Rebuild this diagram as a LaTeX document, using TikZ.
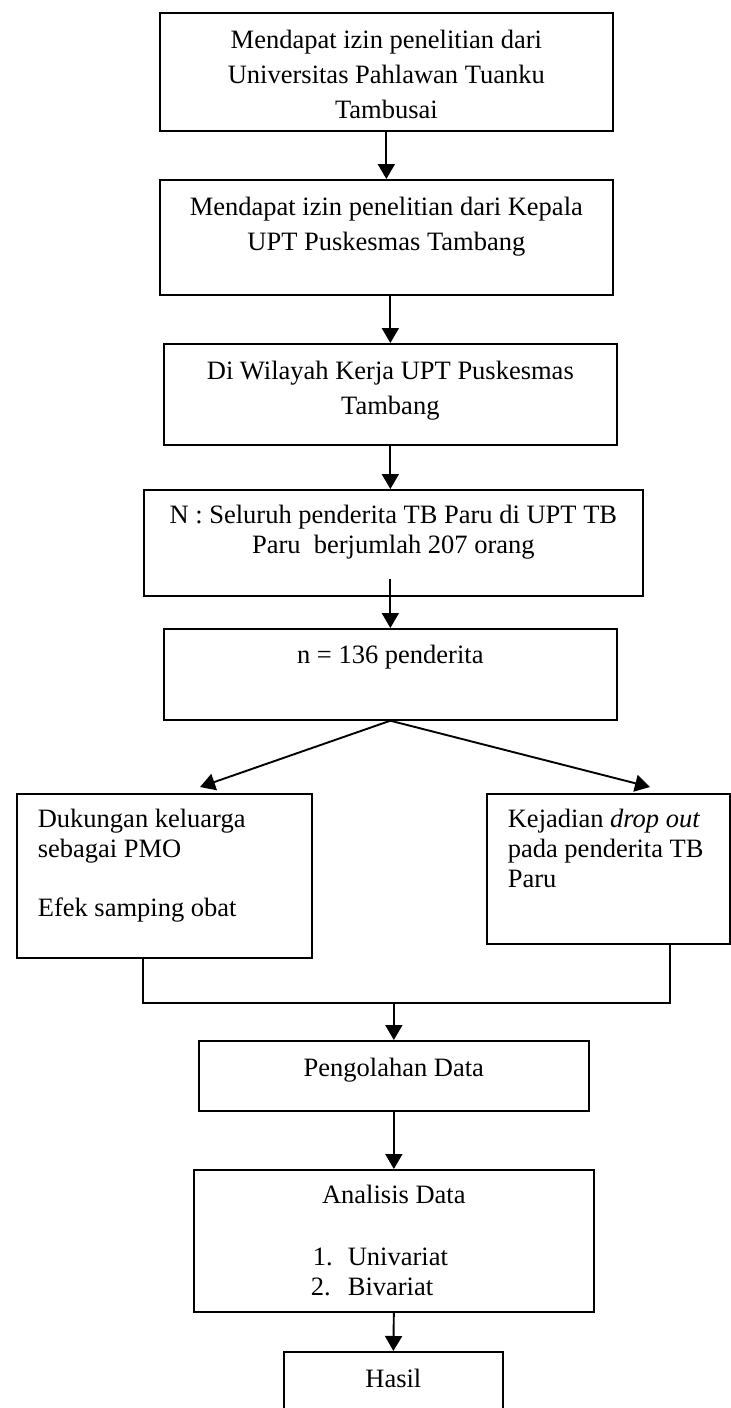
\documentclass[tikz,border=0pt]{standalone}
\usepackage{fontspec}
\setmainfont{Liberation Serif}
\usetikzlibrary{arrows.meta,calc}
\begin{document}
\begin{tikzpicture}[x=0.5pt,y=-0.5pt,
  box/.style={draw, line width=0.85pt, inner sep=0pt, anchor=north west, font=\fontsize{13.25pt}{17.5pt}\selectfont},
  arr/.style={line width=0.95pt, -{Triangle[length=7.5pt,width=8.5pt]}},
  ln/.style={line width=0.85pt}]
\useasboundingbox (0,0) rectangle (731,1408);
\clip (0,0) rectangle (731,1408);
\node[box] (b1) at (159,12) {\parbox[c][59pt][t]{226.5pt}{\centering\rule{0pt}{18pt}Mendapat izin penelitian dari\\Universitas Pahlawan Tuanku\\Tambusai}};
\node[box] (b2) at (159,179) {\parbox[c][57.5pt][t]{226.5pt}{\centering\rule{0pt}{18pt}Mendapat izin penelitian dari Kepala\\UPT Puskesmas Tambang}};
\node[box] (b3) at (163,343) {\parbox[c][50.5pt][t]{226.5pt}{\centering\rule{0pt}{18pt}Di Wilayah Kerja UPT Puskesmas\\Tambang}};
\node[box, font=\fontsize{13.25pt}{15pt}\selectfont] (b4) at (143,489) {\parbox[c][53pt][t]{249.5pt}{\centering\rule{0pt}{17pt}N : Seluruh penderita TB Paru di UPT TB\\Paru\ \ berjumlah 207 orang}};
\node[box] (b5) at (163,628) {\parbox[c][45.5pt][t]{226.5pt}{\centering\rule{0pt}{17.5pt}n = 136 penderita}};
\node[box, font=\fontsize{13.25pt}{14.75pt}\selectfont] (lb) at (16,793) {\parbox[c][82pt][t]{147.5pt}{\raggedright\leftskip=10.5pt\rule{0pt}{17pt}Dukungan keluarga\\sebagai PMO\\[14.75pt]Efek samping obat}};
\node[box, font=\fontsize{13.25pt}{15pt}\selectfont] (rb) at (486,793) {\parbox[c][75pt][t]{121.5pt}{\raggedright\leftskip=10.5pt\rule{0pt}{17pt}Kejadian \textit{drop out}\\pada penderita TB\\Paru}};
\node[box] (b6) at (198,1040) {\parbox[c][35pt][t]{195pt}{\centering\rule{0pt}{18pt}Pengolahan Data}};
\node[box, font=\fontsize{13.25pt}{15pt}\selectfont] (b7) at (193,1169) {\parbox[c][71pt][t]{200pt}{\centering\rule{0pt}{17pt}Analisis Data\par\raggedright\vspace{16pt}\hspace*{59.5pt}\makebox[17.5pt][l]{1.}Univariat\par\hspace*{58.5pt}\makebox[18.5pt][l]{2.}Bivariat}};
\node[box] (b8) at (283,1351) {\parbox[c][40pt][t]{109.5pt}{\centering\rule{0pt}{18pt}Hasil}};
\coordinate (lt) at (200,787);
\coordinate (rt) at (650,787);
\coordinate (lm) at (143,1003);
\coordinate (rm) at (670,1003);
\draw[arr] (b1.south) -- (b2.north);
\draw[arr] (b2.south -| b3.north) -- (b3.north);
\draw[arr] (b3.south) -- (b3.south |- b4.north);
\draw[arr] ($(b4.south -| b5.north)+(0,-18)$) -- (b5.north);
\draw[arr] (b5.south) -- (lt);
\draw[arr] (b5.south) -- (rt);
\draw[ln] (lb.south -| lm) -- (lm) -- (rm) -- (rb.south -| rm);
\draw[arr] (b6.north |- lm) -- (b6.north);
\draw[arr] (b6.south) -- (b7.north);
\draw[arr] (b7.south) -- (b8.north);
\end{tikzpicture}
\end{document}
